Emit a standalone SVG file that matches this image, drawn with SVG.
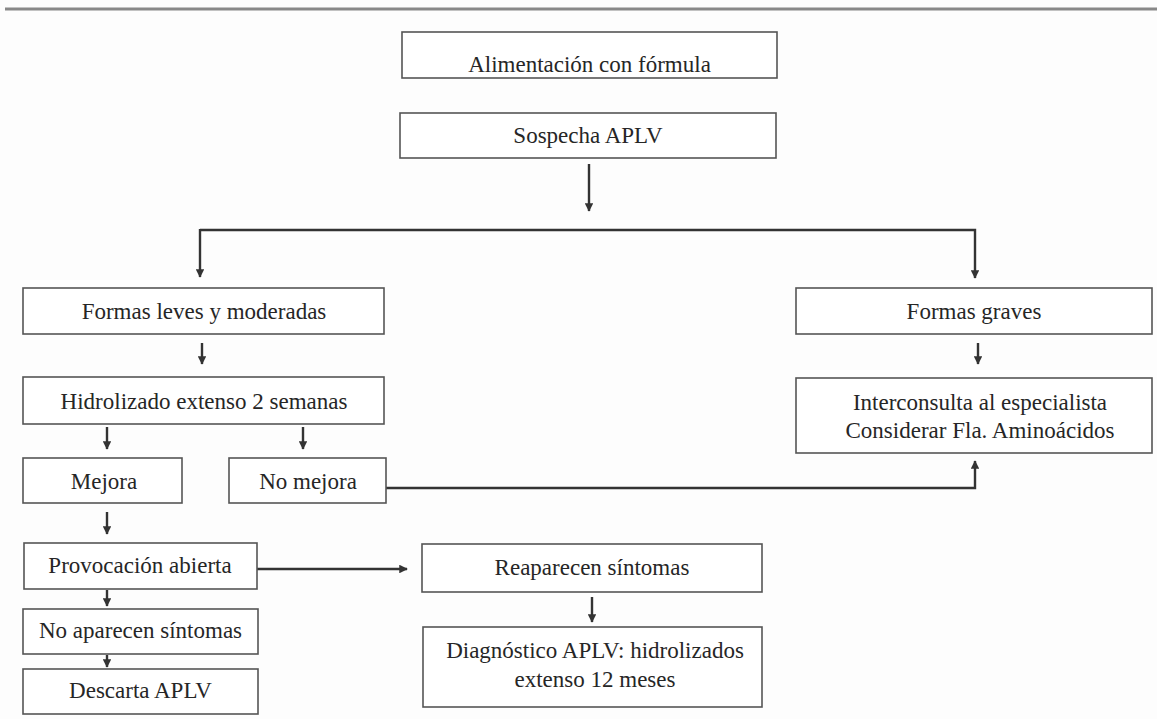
<svg xmlns="http://www.w3.org/2000/svg" width="1157" height="719" viewBox="0 0 1157 719">
<defs>
<style>
.box{fill:#fff;stroke:#555;stroke-width:1.6}
.t{font-family:"Liberation Serif","Times New Roman",serif;font-size:23px;fill:#262626;text-anchor:middle}
.c{fill:none;stroke:#333;stroke-width:2.4}
</style>
<marker id="ah" viewBox="0 0 10 10" refX="9" refY="5" markerWidth="3.6" markerHeight="3.6" orient="auto" markerUnits="strokeWidth">
<path d="M0,0 L10,5 L0,10 z" fill="#333"/>
</marker>
</defs>
<rect width="1157" height="719" fill="#fdfdfd"/>
<line x1="5" y1="9" x2="1157" y2="9" stroke="#888" stroke-width="3"/>

<g id="connectors">
<line class="c" x1="589" y1="164" x2="589" y2="211" marker-end="url(#ah)"/>
<polyline class="c" points="200,230 975,230 975,278" marker-end="url(#ah)"/>
<line class="c" x1="200" y1="229" x2="200" y2="277" marker-end="url(#ah)"/>
<line class="c" x1="202" y1="343" x2="202" y2="364" marker-end="url(#ah)"/>
<line class="c" x1="978" y1="343" x2="978" y2="364" marker-end="url(#ah)"/>
<line class="c" x1="107" y1="427" x2="107" y2="449" marker-end="url(#ah)"/>
<line class="c" x1="303" y1="427" x2="303" y2="449" marker-end="url(#ah)"/>
<polyline class="c" points="386,488 975,488 975,461" marker-end="url(#ah)"/>
<line class="c" x1="107" y1="512" x2="107" y2="534" marker-end="url(#ah)"/>
<line class="c" x1="257" y1="569" x2="407" y2="569" marker-end="url(#ah)"/>
<line class="c" x1="107" y1="590" x2="107" y2="606" marker-end="url(#ah)"/>
<line class="c" x1="107" y1="655" x2="107" y2="667" marker-end="url(#ah)"/>
<line class="c" x1="592" y1="597" x2="592" y2="622" marker-end="url(#ah)"/>
</g>

<g id="n-alimentacion"><rect class="box" x="402" y="32" width="375" height="46"/><text class="t" x="589.5" y="72">Alimentación con fórmula</text></g>
<g id="n-sospecha"><rect class="box" x="400" y="113" width="376" height="45"/><text class="t" x="588" y="143">Sospecha APLV</text></g>
<g id="n-leves"><rect class="box" x="23" y="288" width="361" height="46"/><text class="t" x="204" y="319">Formas leves y moderadas</text></g>
<g id="n-graves"><rect class="box" x="796" y="288" width="356" height="46"/><text class="t" x="974" y="319">Formas graves</text></g>
<g id="n-hidrolizado"><rect class="box" x="23" y="377" width="361" height="47"/><text class="t" x="204" y="409">Hidrolizado extenso 2 semanas</text></g>
<g id="n-interconsulta"><rect class="box" x="796" y="378" width="356" height="75"/><text class="t" x="980" y="410">Interconsulta al especialista</text><text class="t" x="980" y="438">Considerar Fla. Aminoácidos</text></g>
<g id="n-mejora"><rect class="box" x="23" y="458" width="159" height="45"/><text class="t" x="104" y="489">Mejora</text></g>
<g id="n-nomejora"><rect class="box" x="229" y="458" width="157" height="45"/><text class="t" x="308" y="489">No mejora</text></g>
<g id="n-provocacion"><rect class="box" x="24" y="543" width="233" height="46"/><text class="t" x="140" y="573">Provocación abierta</text></g>
<g id="n-reaparecen"><rect class="box" x="422" y="544" width="340" height="48"/><text class="t" x="592" y="575">Reaparecen síntomas</text></g>
<g id="n-noaparecen"><rect class="box" x="23" y="609" width="235" height="45"/><text class="t" x="140.5" y="638">No aparecen síntomas</text></g>
<g id="n-descarta"><rect class="box" x="23" y="669" width="235" height="45"/><text class="t" x="140.5" y="698">Descarta APLV</text></g>
<g id="n-diagnostico"><rect class="box" x="423" y="627" width="339" height="80"/><text class="t" x="595" y="658">Diagnóstico APLV: hidrolizados</text><text class="t" x="595" y="687">extenso 12 meses</text></g>
</svg>
